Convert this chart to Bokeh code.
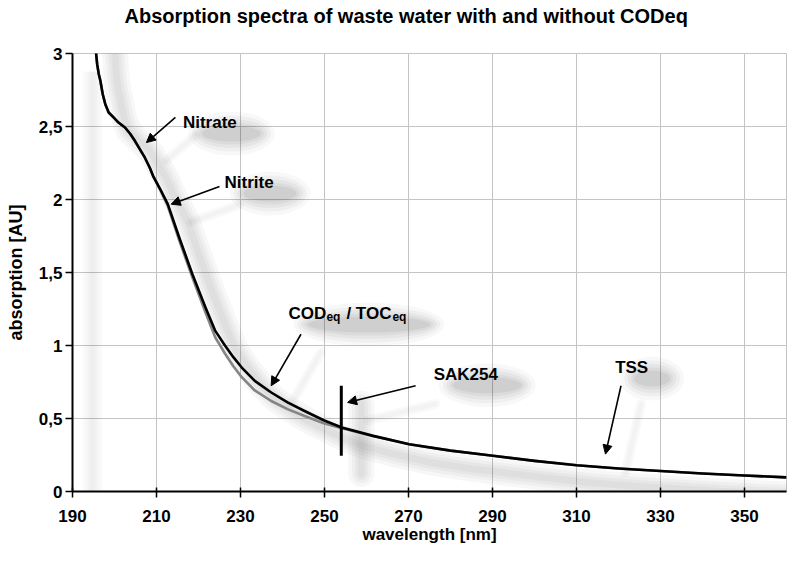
from bokeh.plotting import figure
from bokeh.models import FixedTicker, Range1d, Arrow, NormalHead, Title
from bokeh.embed import file_html
from bokeh.resources import INLINE
from bokeh.core.properties import value

# ---- data -------------------------------------------------------------
wl_with = [195.2, 195.63, 195.87, 196.26, 196.64, 197.2, 197.81, 198.61, 199.78,
           200.95, 202.5, 203.68, 204.85, 206.02, 207.2, 208.37, 209.17, 210.9,
           212.69, 215.41, 218.55, 221.67, 224.0, 226.3, 228.3, 230.3, 233.4,
           237.32, 241.2, 245.13, 249.8, 254.12, 261.55, 270.17, 280.0, 290.1,
           300.0, 310.05, 320.0, 330.0, 340.0, 349.93, 360.0]
abs_with = [3.2, 2.995, 2.927, 2.858, 2.813, 2.721, 2.653, 2.596, 2.562,
            2.527, 2.493, 2.452, 2.402, 2.345, 2.288, 2.219, 2.162, 2.07,
            1.968, 1.74, 1.488, 1.26, 1.10, 1.0, 0.92, 0.849, 0.758,
            0.678, 0.61, 0.553, 0.488, 0.438, 0.381, 0.324, 0.28, 0.245,
            0.21, 0.18, 0.158, 0.14, 0.123, 0.11, 0.097]

wl_without = [195.2, 195.63, 195.87, 196.26, 196.64, 197.2, 197.81, 198.61, 199.78,
              200.95, 202.5, 203.68, 204.85, 206.02, 207.2, 208.37, 209.17, 210.9,
              212.69, 215.41, 218.55, 221.67, 224.0, 226.3, 228.3, 230.3, 233.4,
              237.32, 241.2, 245.13, 249.8, 254.12, 261.55, 270.17, 280.0, 290.1,
              300.0, 310.05, 320.0, 330.0, 340.0, 349.93, 360.0]
abs_without = [3.2, 2.995, 2.927, 2.858, 2.813, 2.721, 2.653, 2.596, 2.562,
               2.527, 2.493, 2.452, 2.402, 2.345, 2.288, 2.219, 2.162, 2.065,
               1.955, 1.72, 1.465, 1.226, 1.055, 0.945, 0.858, 0.783, 0.692,
               0.62, 0.564, 0.519, 0.468, 0.433, 0.381, 0.324, 0.28, 0.245,
               0.21, 0.18, 0.158, 0.14, 0.123, 0.11, 0.097]

x_ticks = [190, 210, 230, 250, 270, 290, 310, 330, 350]
y_ticks = [0, 0.5, 1, 1.5, 2, 2.5, 3]
y_tick_labels = ["0", "0,5", "1", "1,5", "2", "2,5", "3"]

title_text = "Absorption spectra of waste water with and without CODeq"
x_label = "wavelength [nm]"
y_label = "absorption [AU]"

# annotation texts (left/baseline anchor) and arrows
ann_text = ["Nitrate", "Nitrite", "SAK254", "TSS"]
ann_x = [216.3, 226.2, 276.0, 319.2]
ann_y = [2.527, 2.116, 0.803, 0.849]

cod_x = 241.4
cod_y = 1.219

arrow_x0 = [214.5, 225.0, 244.4, 271.7, 320.6]
arrow_y0 = [2.562, 2.089, 1.077, 0.724, 0.724]
arrow_x1 = [207.6, 213.5, 237.3, 255.5, 316.9]
arrow_y1 = [2.390, 1.968, 0.724, 0.610, 0.256]

sak_x = 254
sak_y0 = 0.245
sak_y1 = 0.725

# ---- styling constants ------------------------------------------------
FONT = "Liberation Sans"
W, H = 787, 550
BL, BR, BT, BB = 72, 1, 53, 59
X0, X1, Y0, Y1 = 190, 360, 0, 3
PX_X = (W - BL - BR) / (X1 - X0)      # pixels per nm
PX_Y = (H - BT - BB) / (Y1 - Y0)      # pixels per AU
SH_DX, SH_DY = 20, 18                  # drop shadow offset in px
ann_w = [57, 51, 67, 34]               # text extents (px) used for shadow blobs
cod_w = 121
TXT_H = 14

# ---- figure -----------------------------------------------------------
p = figure(width=W, height=H, x_range=Range1d(X0, X1), y_range=Range1d(Y0, Y1),
           output_backend="svg", toolbar_location=None,
           min_border_left=BL, min_border_right=BR, min_border_top=BT, min_border_bottom=BB)
p.background_fill_color = "white"
p.border_fill_color = "white"
p.outline_line_color = "#c4c4c4"

# spacer (nearest the frame) then the real title above it
p.add_layout(Title(text=" ", text_font=FONT, text_font_size="22px", standoff=0), "above")
p.add_layout(Title(text=title_text, text_font=FONT, text_font_size="20px",
                   text_font_style="bold", text_color="black", align="left",
                   offset=52, standoff=0), "above")

for ax in (p.xaxis[0], p.yaxis[0]):
    ax.axis_line_color = "black"
    ax.axis_line_width = 2
    ax.major_tick_line_color = "black"
    ax.major_tick_line_width = 1.5
    ax.minor_tick_line_color = None
    ax.major_label_text_font = FONT
    ax.major_label_text_font_size = "17px"
    ax.major_label_text_font_style = "bold"
    ax.major_label_text_color = "black"
    ax.axis_label_text_font = FONT
    ax.axis_label_text_font_size = "17px"
    ax.axis_label_text_font_style = "bold"
    ax.axis_label_text_color = "black"

p.xaxis.ticker = FixedTicker(ticks=x_ticks)
p.xaxis.axis_label = x_label
p.xaxis.major_tick_in = 4
p.xaxis.major_tick_out = 6
p.xaxis.major_label_standoff = 12
p.xaxis.axis_label_standoff = 0

p.yaxis.ticker = FixedTicker(ticks=y_ticks)
p.yaxis.major_label_overrides = dict(zip(y_ticks, y_tick_labels))
p.yaxis.axis_label = y_label
p.yaxis.axis_label_text_font_size = "18px"
p.yaxis.major_tick_in = 0
p.yaxis.major_tick_out = 7
p.yaxis.major_label_standoff = 3
p.yaxis.axis_label_standoff = 10

p.xgrid.ticker = FixedTicker(ticks=x_ticks)
p.ygrid.ticker = FixedTicker(ticks=y_ticks)
p.grid.grid_line_color = "#c4c4c4"
p.grid.grid_line_width = 1

# ---- soft drop shadows (approximating the blurred shadow layer) ------
dxs = SH_DX / PX_X
dys = -SH_DY / PX_Y
sh_x = [v + dxs for v in wl_with]
sh_y = [v + dys for v in abs_with]
for lw in (26, 19, 13, 7):
    p.line(sh_x, sh_y, line_color="black", line_alpha=0.03, line_width=lw, line_join="round")
    p.segment(x0=[sak_x + dxs], y0=[sak_y0 + dys], x1=[sak_x + dxs], y1=[sak_y1 + dys],
              line_color="black", line_alpha=0.03, line_width=lw, line_cap="round")
    p.segment(x0=[X0 + dxs], y0=[Y0], x1=[X0 + dxs], y1=[Y1 + dys],
              line_color="black", line_alpha=0.015, line_width=lw * 0.8)
for lw in (10, 5):
    p.segment(x0=[v + dxs for v in arrow_x0], y0=[v + dys for v in arrow_y0],
              x1=[v + dxs for v in arrow_x1], y1=[v + dys for v in arrow_y1],
              line_color="black", line_alpha=0.025, line_width=lw, line_cap="round")

blob_x = [x + (w / 2 + SH_DX) / PX_X for x, w in zip(ann_x, ann_w)] + [cod_x + (cod_w / 2 + SH_DX) / PX_X]
blob_y = [y + (TXT_H / 2 - SH_DY) / PX_Y for y in ann_y] + [cod_y + (TXT_H / 2 - SH_DY) / PX_Y]
blob_w = ann_w + [cod_w]
for grow, a in ((30, 0.028), (22, 0.035), (15, 0.04), (8, 0.045), (2, 0.05)):
    p.ellipse(x=blob_x, y=blob_y, width=[w + grow for w in blob_w], height=TXT_H + grow,
              width_units="screen", height_units="screen",
              fill_color="black", fill_alpha=a, line_color=None)

# ---- curves -----------------------------------------------------------
p.line(wl_without, abs_without, line_color="#858585", line_width=2.6, line_join="round")
p.line(wl_with, abs_with, line_color="black", line_width=2.6, line_join="round")

p.segment(x0=[sak_x], y0=[sak_y0], x1=[sak_x], y1=[sak_y1], line_color="black", line_width=3)

# ---- arrows -----------------------------------------------------------
for xs, ys, xe, ye in zip(arrow_x0, arrow_y0, arrow_x1, arrow_y1):
    p.add_layout(Arrow(end=NormalHead(size=9, fill_color="black", line_color="black", line_width=1),
                       x_start=xs, y_start=ys, x_end=xe, y_end=ye,
                       line_color="black", line_width=1.6))

# ---- texts ------------------------------------------------------------
p.text(x=ann_x, y=ann_y, text=ann_text, text_font=value(FONT), text_font_size="17px",
       text_font_style="bold", text_baseline="alphabetic", text_align="left", text_color="black")

cod_parts = ["COD", "eq", "/ TOC", "eq"]
cod_sizes = ["17px", "12px", "17px", "12px"]
cod_dx = [0, 38, 58, 104]
cod_dy = [0, 3, 0, 3]
for t, s, dx, dy in zip(cod_parts, cod_sizes, cod_dx, cod_dy):
    p.text(x=[cod_x], y=[cod_y], text=[t], x_offset=dx, y_offset=dy,
           text_font=value(FONT), text_font_size=s, text_font_style="bold",
           text_baseline="alphabetic", text_align="left", text_color="black")

open("out.html", "w").write(file_html(p, INLINE))
